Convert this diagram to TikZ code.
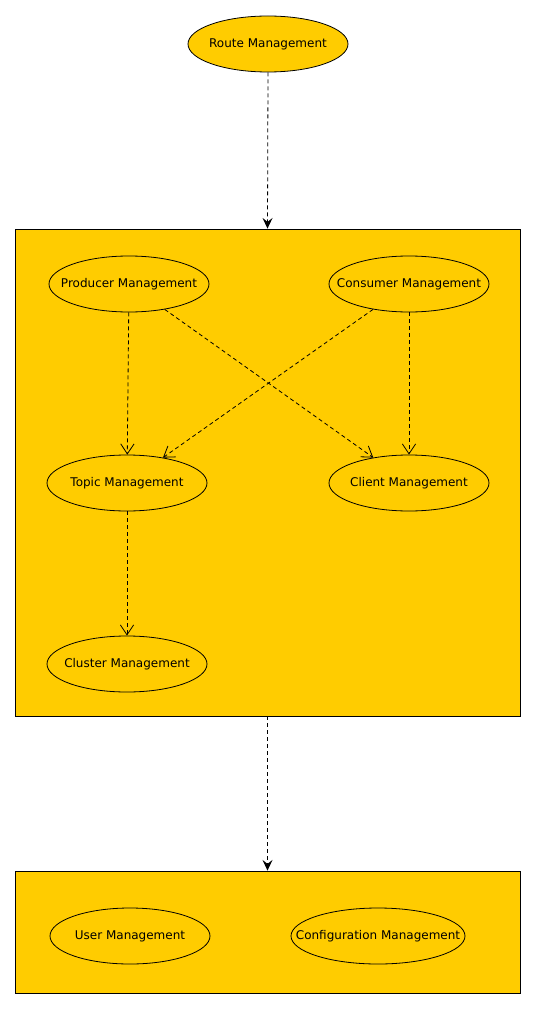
\documentclass[tikz,border=0pt]{standalone}
\usepackage{fontspec}
\setmainfont{DejaVu Sans}
\usetikzlibrary{shapes.geometric,arrows.meta}
\definecolor{RMisticanje}{HTML}{FFCC00}
\colorlet{RMzuta}{RMisticanje}
\newcommand{\RMtekst}[1]{\makebox[0pt]{#1}}

\begin{document}
\begin{tikzpicture}[font=\fontsize{9}{10.5}\selectfont,x=.75pt,y=-.75pt,line width=.6pt,
 RMslucaj/.style={ellipse,draw,fill=RMzuta,inner sep=0pt,minimum width=120pt,minimum height=42pt},
 RMpaket/.style={rectangle,draw,fill=RMzuta,inner sep=0pt,minimum width=378.75pt},
 RMveza/.style={dash pattern=on 3pt off 2.25pt,-{Stealth[length=8pt,width=7.5pt,inset=3pt]}},
 RMkoristi/.style={dash pattern=on 3pt off 2.25pt,-{Straight Barb[length=7.5pt,width=10pt]}}]
\useasboundingbox (0,0) rectangle (536,1009);
\node[RMpaket,minimum height=365.25pt] (jezgra) at (267.5,472.5) {};
\node[RMpaket,minimum height=91.5pt] (osnova) at (267.5,932) {};
\node[RMslucaj] (ruta) at (268,44) {\RMtekst{Route Management}};
\foreach \x/\y/\ime/\lab in {129/284/prod/Producer Management,409/284/cons/Consumer Management,
 127/483/topic/Topic Management,409/483/client/Client Management,127/664/cluster/Cluster Management,
 130/936/user/User Management}{\node[RMslucaj] (\ime) at (\x,\y) {\RMtekst{\lab}};}
\node[RMslucaj,minimum width=130.5pt] (config) at (378,936) {\RMtekst{Configuration Management}};
\draw[RMveza] (ruta.south)--(jezgra.north);
\draw[RMveza] (jezgra.south)--(osnova.north);
\foreach \a/\b in {prod/topic,prod/client,cons/topic,cons/client,topic/cluster}{\draw[RMkoristi] (\a)--(\b);}
\end{tikzpicture}
\end{document}
